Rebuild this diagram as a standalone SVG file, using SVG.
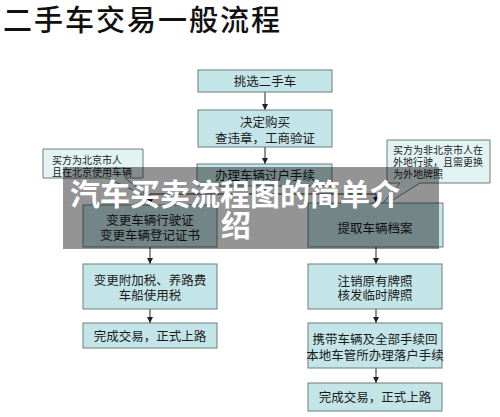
<svg xmlns="http://www.w3.org/2000/svg" width="500" height="417" viewBox="0 0 500 417">
<defs>
<marker id="ah" viewBox="0 0 8 8" refX="8" refY="4" markerWidth="6" markerHeight="6" orient="auto" markerUnits="userSpaceOnUse">
<path d="M0,0 L8,4 L0,8 z" fill="#222"/>
</marker>
<style>
.box{fill:#c4e5e8;stroke:#6c7c7e;stroke-width:1}
.call{fill:#e2f3f4;stroke:#6c7c7e;stroke-width:1}
.t{font-family:"Noto Sans CJK SC","Liberation Sans",sans-serif;font-size:12.5px;fill:#1a1a1a;text-anchor:middle}
.ct{font-family:"Noto Sans CJK SC","Liberation Sans",sans-serif;font-size:10px;fill:#1a1a1a}
.ln{stroke:#222;stroke-width:1;fill:none}
.title{font-family:"Noto Sans CJK SC","Liberation Sans",sans-serif;font-size:29px;fill:#111;font-weight:500}
.ov{font-family:"Noto Sans CJK SC","Liberation Sans",sans-serif;font-size:30px;fill:#fff;font-weight:bold;text-anchor:middle}
</style>
</defs>
<rect width="500" height="417" fill="#fff"/>
<text class="title" x="3" y="31" letter-spacing="2">二手车交易一般流程</text>

<g id="connectors">
<line class="ln" x1="265" y1="92" x2="265" y2="110" marker-end="url(#ah)"/>
<line class="ln" x1="265" y1="147" x2="265" y2="164" marker-end="url(#ah)"/>
<polyline class="ln" points="265,186 265,194 150,194 150,205" marker-end="url(#ah)"/>
<polyline class="ln" points="265,194 376,194 376,203" marker-end="url(#ah)"/>
<line class="ln" x1="150" y1="247" x2="150" y2="264" marker-end="url(#ah)"/>
<line class="ln" x1="150" y1="309" x2="150" y2="323" marker-end="url(#ah)"/>
<line class="ln" x1="376" y1="247" x2="376" y2="264" marker-end="url(#ah)"/>
<line class="ln" x1="376" y1="309" x2="376" y2="323" marker-end="url(#ah)"/>
<line class="ln" x1="376" y1="368" x2="376" y2="383" marker-end="url(#ah)"/>
</g>

<g id="n1"><rect class="box" x="198" y="70" width="134" height="22"/><text class="t" x="265" y="85.5">挑选二手车</text></g>
<g id="n2"><rect class="box" x="198" y="110" width="134" height="37"/><text class="t" x="265" y="126.5">决定购买</text><text class="t" x="265" y="142.5">查违章，工商验证</text></g>
<g id="n3"><rect class="box" x="197" y="164" width="135" height="22"/><text class="t" x="265" y="179.5">办理车辆过户手续</text></g>

<g id="c1"><path class="call" d="M43,149 H143 V178 H125 L152,199 L107,178 H43 Z"/><text class="ct" x="52" y="163.5">买方为北京市人</text><text class="ct" x="52" y="176">且在北京使用车辆</text></g>
<g id="c2"><path class="call" d="M387,140 H490 V183 H420 L377,210 L400,183 H387 Z"/><text class="ct" x="393" y="154">买方为非北京市人在</text><text class="ct" x="393" y="166">外地行驶，且需更换</text><text class="ct" x="393" y="178">为外地牌照</text></g>

<g id="n4"><rect class="box" x="83" y="205" width="134" height="42"/><text class="t" x="150" y="224.5">变更车辆行驶证</text><text class="t" x="150" y="239.5">变更车辆登记证书</text></g>
<g id="n5"><rect class="box" x="308" y="203" width="135" height="44"/><text class="t" x="375" y="232.5">提取车辆档案</text></g>
<g id="n6"><rect class="box" x="83" y="264" width="134" height="45"/><text class="t" x="150" y="284.5">变更附加税、养路费</text><text class="t" x="150" y="299.5">车船使用税</text></g>
<g id="n7"><rect class="box" x="83" y="323" width="134" height="25"/><text class="t" x="150" y="341">完成交易，正式上路</text></g>
<g id="n8"><rect class="box" x="308" y="264" width="134" height="45"/><text class="t" x="375" y="285.5">注销原有牌照</text><text class="t" x="375" y="300">核发临时牌照</text></g>
<g id="n9"><rect class="box" x="308" y="323" width="134" height="45"/><text class="t" x="375" y="343.5">携带车辆及全部手续回</text><text class="t" x="375" y="359.5">本地车管所办理落户手续</text></g>
<g id="n10"><rect class="box" x="308" y="383" width="134" height="28"/><text class="t" x="375" y="401.5">完成交易，正式上路</text></g>

<g id="overlay">
<rect x="63" y="167" width="376" height="82" fill="#000" fill-opacity="0.42"/>
<text class="ov" x="235" y="205">汽车买卖流程图的简单介</text>
<text class="ov" x="236" y="236">绍</text>
</g>
</svg>
